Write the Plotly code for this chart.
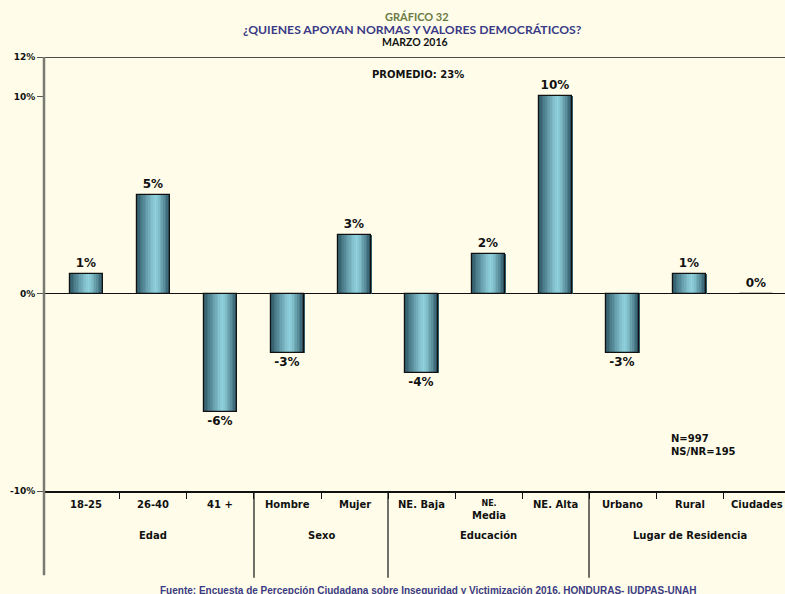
import plotly.graph_objects as go
import numpy as np

categories = ["18-25", "26-40", "41 +", "Hombre", "Mujer", "NE. Baja", "NE. Media", "NE. Alta", "Urbano", "Rural", "Ciudades"]
cat_labels = ["18-25", "26-40", "41 +", "Hombre", "Mujer", "NE. Baja",
              "<span style='font-size:8px'>NE.</span><br>Media", "NE. Alta", "Urbano", "Rural", "Ciudades"]
values = [1, 5, -6, -3, 3, -4, 2, 10, -3, 1, 0]
groups = ["Edad", "Sexo", "Educación", "Lugar de Residencia"]
group_sizes = [3, 2, 3, 3]
ytick_vals = [-10, 0, 10, 12]
ytick_text = ["-10%", "0%", "10%", "12%"]

BG = "#fffdea"
VF = "DejaVu Sans"
x = list(range(len(categories)))

fig = go.Figure()

# gradient strips for bars
bw = 0.5
N = 20
dark = np.array([0x2a, 0x52, 0x60])
light = np.array([0x90, 0xd2, 0xde])
peak = 0.58
for i in range(N):
    t = (i + 0.5) / N
    d = abs(t - peak) / (peak if t < peak else 1 - peak)
    f = 1 - d ** 1.2
    c = dark + (light - dark) * f
    col = "rgb(%d,%d,%d)" % tuple(c.astype(int))
    w = bw / N
    fig.add_trace(go.Bar(x=x, y=values, width=w * 1.15, offset=-bw / 2 + i * w,
                         marker=dict(color=col, line=dict(width=0)),
                         hoverinfo="skip", showlegend=False))

# outline + value labels
fig.add_trace(go.Bar(x=x, y=values, width=bw,
                     marker=dict(color="rgba(0,0,0,0)", line=dict(color="#111111", width=1.2)),
                     text=[f"{v}%" for v in values], textposition="outside",
                     textfont=dict(family=VF, size=12, color="#111111", weight="bold"),
                     cliponaxis=False, showlegend=False))

shapes = []
shapes.append(dict(type="line", xref="paper", yref="y", x0=0, x1=1, y0=12, y1=12,
                   line=dict(color="#111111", width=1.5)))
shapes.append(dict(type="line", xref="paper", yref="paper", x0=0, x1=0, y0=1, y1=-0.194,
                   line=dict(color="#7a7a72", width=2.5)))
pos = -0.5
for s in group_sizes[:-1]:
    pos += s
    shapes.append(dict(type="line", xref="x", yref="paper", x0=pos, x1=pos, y0=0, y1=-0.2,
                       line=dict(color="#111111", width=1.2)))


def py(p):
    return (491 - p) / 434.0


def px(p):
    return (p - 44) / 741.0


BF = dict(family=VF, size=10, color="#111111", weight="bold")
annotations = []
for xi, lab in zip(x, cat_labels):
    annotations.append(dict(x=xi, y=-0.013, xref="x", yref="paper", text=lab, showarrow=False,
                            yanchor="top", xanchor="center", font=BF))
start = 0
for g, s in zip(groups, group_sizes):
    c = start + (s - 1) / 2
    annotations.append(dict(x=c, y=py(535), xref="x", yref="paper", text=g, showarrow=False,
                            yanchor="middle", xanchor="center", font=BF))
    start += s

annotations += [
    dict(x=px(417), y=py(17), text="GRÁFICO 32", xanchor="center",
         font=dict(family="Lato", size=11, color="#6b7a45", weight="bold")),
    dict(x=px(412), y=py(30), text="¿QUIENES APOYAN NORMAS Y VALORES DEMOCRÁTICOS?", xanchor="center",
         font=dict(family="Lato", size=12.2, color="#3a3a86", weight="bold")),
    dict(x=px(415), y=py(42), text="MARZO 2016", xanchor="center",
         font=dict(family="Lato", size=10.5, color="#111111", weight="bold")),
    dict(x=px(418), y=py(74), text="PROMEDIO: 23%", xanchor="center",
         font=dict(family=VF, size=10, color="#111111", weight="bold")),
    dict(x=px(669), y=py(444.5), text="N=997<br>NS/NR=195", xanchor="left", align="left",
         font=dict(family=VF, size=10, color="#111111", weight="bold")),
    dict(x=px(428), y=py(590), xanchor="center",
         text="Fuente: Encuesta de Percepción Ciudadana sobre Inseguridad y Victimización 2016. HONDURAS- IUDPAS-UNAH",
         font=dict(family="Liberation Sans", size=10, color="#3a3a86", weight="bold")),
]
for a in annotations[-6:]:
    a.update(xref="paper", yref="paper", yanchor="middle", showarrow=False)

fig.update_layout(
    width=785, height=594,
    margin=dict(l=44, r=0, t=57, b=103),
    paper_bgcolor=BG, plot_bgcolor=BG,
    barmode="overlay", bargap=0,
    shapes=shapes, annotations=annotations,
    xaxis=dict(range=[-0.634, 10.425], tickvals=[i + 0.5 for i in range(10)], ticktext=[""] * 10,
               ticks="outside", ticklen=6, tickcolor="#111111", tickwidth=1.2,
               showline=True, linecolor="#111111", linewidth=1.5, showgrid=False, zeroline=False,
               automargin=False, fixedrange=True),
    yaxis=dict(range=[-10, 12], tickvals=ytick_vals, ticktext=ytick_text, ticks="outside", ticklen=6,
               tickcolor="#555555", tickwidth=1.2,
               tickfont=dict(family=VF, size=9, color="#111111", weight="bold"),
               showline=False, showgrid=False, zeroline=True, zerolinecolor="#111111", zerolinewidth=1.2,
               automargin=False, fixedrange=True),
    font=dict(family=VF),
    showlegend=False,
)

fig.write_html("out.html", config={"displayModeBar": False},
               post_script="document.body.style.margin='0';document.body.style.background='%s';" % BG)
